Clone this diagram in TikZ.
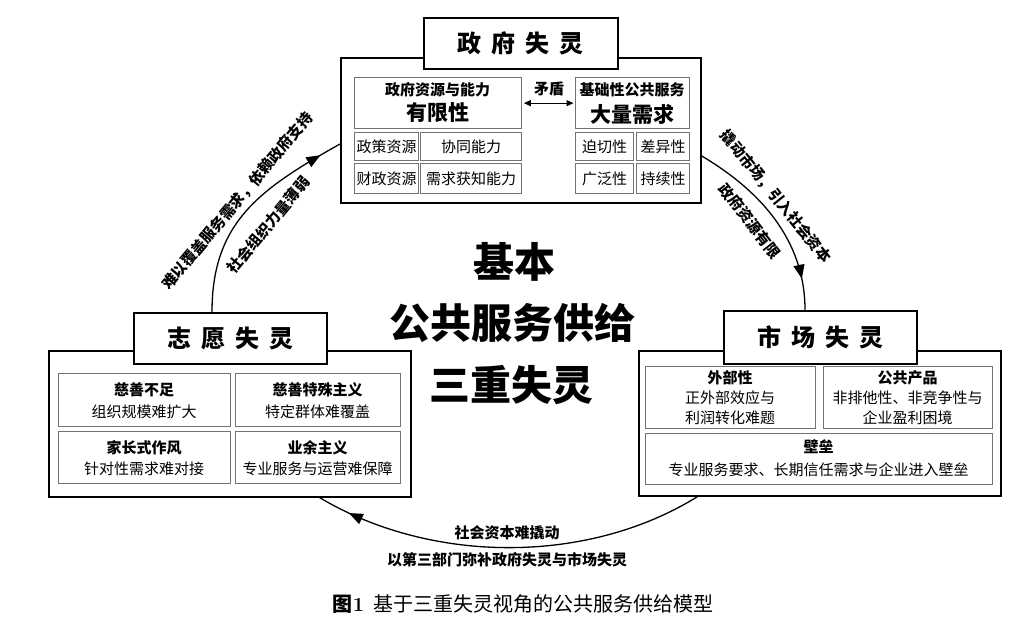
\documentclass[tikz,border=0pt]{standalone}
\usepackage{fontspec}
\newfontfamily\cjk{Noto Sans CJK SC}
\usetikzlibrary{arrows.meta,decorations.markings}
\begin{document}
\begin{tikzpicture}[x=1pt,y=-1pt,
  outer/.style={draw=black, line width=1.8pt, fill=white, inner sep=0pt, anchor=north west},
  ttl/.style={draw=black, line width=1.8pt, fill=white, inner sep=0pt, anchor=north west,
              font=\cjk\bfseries\fontsize{24}{28}\selectfont},
  inbox/.style={draw=black!55, line width=1.3pt, inner sep=0pt, anchor=north west,
              font=\cjk\fontsize{15}{18}\selectfont},
  tnorm/.style={font=\cjk\fontsize{15}{18}\selectfont, inner sep=0pt},
  tbold/.style={font=\cjk\bfseries\fontsize{15}{18}\selectfont, inner sep=0pt},
  tbig/.style={font=\cjk\bfseries\fontsize{21}{24}\selectfont, inner sep=0pt},
  huge/.style={font=\cjk\bfseries\fontsize{41}{48}\selectfont, inner sep=0pt},
  flow/.style={line width=1.3pt},
  midarrow/.style={postaction={decorate}, decoration={markings,
      mark=at position #1 with {\arrow{Triangle[length=14pt,width=11pt]}}}}
]
\useasboundingbox (0,0) rectangle (1025,629);

% ---- connectors (drawn first) ----
\coordinate (la) at (212,312);
\coordinate (lb) at (340,144);
\coordinate (ra) at (700,155);
\coordinate (rb) at (805,310);
\coordinate (ba) at (700,495);
\coordinate (bb) at (317,496);
\draw[flow, midarrow=0.9] (la) .. controls (212,222) and (260,189) .. (lb);
\draw[flow, midarrow=0.84] (ra) .. controls (760,190) and (805,240) .. (rb);
\draw[flow, midarrow=0.91] (ba) .. controls (590,565) and (430,565) .. (bb);

% ---- government failure ----
\node[outer, minimum width=360pt, minimum height=145pt] (gov) at (340,57) {};
\node[ttl, minimum width=194pt, minimum height=51pt] (govt) at (423,17)
  {政\hspace{10pt}府\hspace{10pt}失\hspace{10pt}灵};
\node[inbox, minimum width=167pt, minimum height=51pt] (gA) at (354,77) {};
\node[inbox, minimum width=114pt, minimum height=51pt] (gB) at (575,77) {};
\node[tbold] (gAt1) at (437.5,90) {政府资源与能力};
\node[tbig]  (gAt2) at (437.5,113) {有限性};
\node[tbold] (gBt1) at (632,90) {基础性公共服务};
\node[tbig]  (gBt2) at (632,114) {大量需求};
\node[inbox, minimum width=64pt, minimum height=28pt] (g1) at (354,132) {政策资源};
\node[inbox, minimum width=101pt, minimum height=28pt] (g2) at (420,132) {协同能力};
\node[inbox, minimum width=64pt, minimum height=30pt] (g3) at (354,163) {财政资源};
\node[inbox, minimum width=101pt, minimum height=30pt] (g4) at (420,163) {需求获知能力};
\node[inbox, minimum width=58pt, minimum height=28pt] (g5) at (575,132) {迫切性};
\node[inbox, minimum width=53pt, minimum height=28pt] (g6) at (636,132) {差异性};
\node[inbox, minimum width=58pt, minimum height=30pt] (g7) at (575,163) {广泛性};
\node[inbox, minimum width=53pt, minimum height=30pt] (g8) at (636,163) {持续性};
\draw[line width=1.2pt, {Triangle[length=7pt,width=6pt]}-{Triangle[length=7pt,width=6pt]},
      shorten <=1.5pt, shorten >=1.5pt] (gA.east) -- (gB.west);
\node[tbold] (md) at (549,89) {矛盾};

% ---- volunteer failure ----
\node[outer, minimum width=362pt, minimum height=146pt] (vol) at (48,350) {};
\node[ttl, minimum width=193pt, minimum height=51pt] (volt) at (133,312)
  {志\hspace{10pt}愿\hspace{10pt}失\hspace{10pt}灵};
\node[inbox, minimum width=172pt, minimum height=53pt] (v1) at (58,373) {};
\node[inbox, minimum width=165pt, minimum height=53pt] (v2) at (235,373) {};
\node[inbox, minimum width=172pt, minimum height=52pt] (v3) at (58,431) {};
\node[inbox, minimum width=165pt, minimum height=52pt] (v4) at (235,431) {};
\node[tbold] (v1a) at (144,390) {慈善不足};
\node[tnorm] (v1b) at (144,412) {组织规模难扩大};
\node[tbold] (v2a) at (317.5,390) {慈善特殊主义};
\node[tnorm] (v2b) at (317.5,412) {特定群体难覆盖};
\node[tbold] (v3a) at (144,448) {家长式作风};
\node[tnorm] (v3b) at (144,469) {针对性需求难对接};
\node[tbold] (v4a) at (317.5,448) {业余主义};
\node[tnorm] (v4b) at (317.5,469) {专业服务与运营难保障};

% ---- market failure ----
\node[outer, minimum width=362pt, minimum height=145pt] (mkt) at (638,350) {};
\node[ttl, minimum width=193pt, minimum height=53pt] (mktt) at (723,310)
  {市\hspace{10pt}场\hspace{10pt}失\hspace{10pt}灵};
\node[inbox, minimum width=170pt, minimum height=62pt] (m1) at (645,366) {};
\node[inbox, minimum width=169pt, minimum height=62pt] (m2) at (823,366) {};
\node[inbox, minimum width=347pt, minimum height=51pt] (m3) at (645,433) {};
\node[tbold] (m1a) at (730,378) {外部性};
\node[tnorm] (m1b) at (730,398) {正外部效应与};
\node[tnorm] (m1c) at (730,418) {利润转化难题};
\node[tbold] (m2a) at (907.5,378) {公共产品};
\node[tnorm] (m2b) at (907.5,398) {非排他性、非竞争性与};
\node[tnorm] (m2c) at (907.5,418) {企业盈利困境};
\node[tbold] (m3a) at (818.5,447) {壁垒};
\node[tnorm] (m3b) at (818.5,470) {专业服务要求、长期信任需求与企业进入壁垒};

% ---- centre title ----
\node[huge] (c1) at (514,262) {基本};
\node[huge] (c2) at (512,323) {公共服务供给};
\node[huge] (c3) at (511,385) {三重失灵};

% ---- connector labels ----
\node[tbold, rotate=50] (l1) at (237.5,201) {难以覆盖服务需求，依赖政府支持};
\node[tbold, rotate=50.5] (l2) at (268.5,225) {社会组织力量薄弱};
\node[tbold, rotate=-51] (r1) at (776,196.5) {撬动市场，引入社会资本};
\node[tbold, rotate=-52] (r2) at (750,221) {政府资源有限};
\node[tbold] (b1) at (507,533) {社会资本难撬动};
\node[tbold] (b2) at (507,560) {以第三部门弥补政府失灵与市场失灵};

% ---- caption ----
\node[inner sep=0pt, font=\fontsize{20}{24}\selectfont] (cap) at (523,604)
  {{\cjk\bfseries 图}{\bfseries 1}\hspace{9pt}{\cjk 基于三重失灵视角的公共服务供给模型}};
\end{tikzpicture}
\end{document}
